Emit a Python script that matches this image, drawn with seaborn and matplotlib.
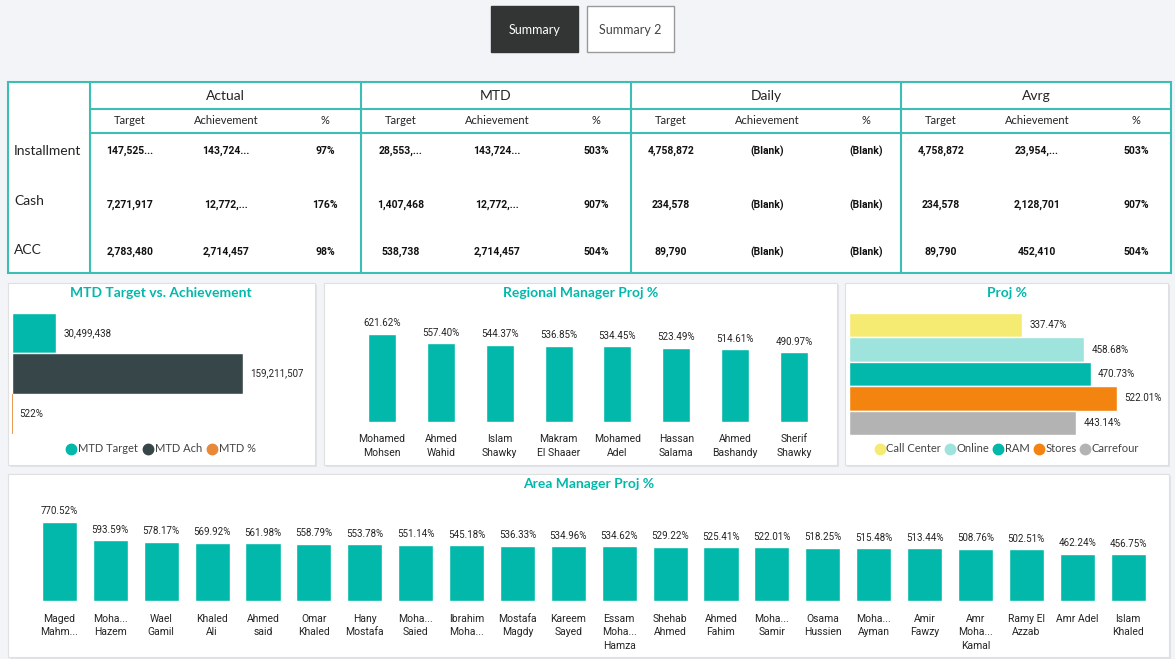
import matplotlib
matplotlib.use('Agg')
import matplotlib.pyplot as plt
import seaborn as sns
from matplotlib.patches import Rectangle
from matplotlib.lines import Line2D

# Data
table_groups = ['Actual', 'MTD', 'Daily', 'Avrg']
table_subcols = ['Target', 'Achievement', '%']
table_rows = ['Installment', 'Cash', 'ACC']
actual_vals = [['147,525...', '143,724...', '97%'],
               ['7,271,917', '12,772,...', '176%'],
               ['2,783,480', '2,714,457', '98%']]
mtd_vals = [['28,553,...', '143,724...', '503%'],
            ['1,407,468', '12,772,...', '907%'],
            ['538,738', '2,714,457', '504%']]
daily_vals = [['4,758,872', '(Blank)', '(Blank)'],
              ['234,578', '(Blank)', '(Blank)'],
              ['89,790', '(Blank)', '(Blank)']]
avrg_vals = [['4,758,872', '23,954,...', '503%'],
             ['234,578', '2,128,701', '907%'],
             ['89,790', '452,410', '504%']]

mtd_labels = ['MTD Target', 'MTD Ach', 'MTD %']
mtd_values = [30499438, 159211507, 5.22]
mtd_text = ['30,499,438', '159,211,507', '522%']

regional_names = ['Mohamed\nMohsen', 'Ahmed\nWahid', 'Islam\nShawky', 'Makram\nEl Shaaer',
                  'Mohamed\nAdel', 'Hassan\nSalama', 'Ahmed\nBashandy', 'Sherif\nShawky']
regional_pct = [621.62, 557.40, 544.37, 536.85, 534.45, 523.49, 514.61, 490.97]

channel_names = ['Call Center', 'Online', 'RAM', 'Stores', 'Carrefour']
channel_pct = [337.47, 458.68, 470.73, 522.01, 443.14]

area_names = ['Maged\nMahm...', 'Moha...\nHazem', 'Wael\nGamil', 'Khaled\nAli', 'Ahmed\nsaid',
              'Omar\nKhaled', 'Hany\nMostafa', 'Moha...\nSaied', 'Ibrahim\nMoha...', 'Mostafa\nMagdy',
              'Kareem\nSayed', 'Essam\nMoha...\nHamza', 'Shehab\nAhmed', 'Ahmed\nFahim', 'Moha...\nSamir',
              'Osama\nHussien', 'Moha...\nAyman', 'Amir\nFawzy', 'Amr\nMoha...\nKamal', 'Ramy El\nAzzab',
              'Amr Adel', 'Islam\nKhaled']
area_pct = [770.52, 593.59, 578.17, 569.92, 561.98, 558.79, 553.78, 551.14, 545.18, 536.33, 534.96,
            534.62, 529.22, 525.41, 522.01, 518.25, 515.48, 513.44, 508.76, 502.51, 462.24, 456.75]

# Colours
teal = '#01B8AA'
dark = '#374649'
orange = '#E8893A'
channel_colors = ['#F5EB73', '#9EE3DC', '#01B8AA', '#F2840F', '#B3B3B3']
line_col = '#3CBFB2'
txt = '#252423'

sns.set_theme(style='white')
plt.rcParams['font.family'] = ['Lato', 'DejaVu Sans']
narrow = ['Roboto', 'DejaVu Sans']

W, H = 1175, 659
fig = plt.figure(figsize=(W / 100, H / 100), dpi=100)
fig.patch.set_facecolor('#F3F4F8')


def box(x0, y0, x1, y1):
    return [x0 / W, 1 - y1 / H, (x1 - x0) / W, (y1 - y0) / H]


# overlay for buttons, table and panel backgrounds
ov = fig.add_axes([0, 0, 1, 1])
ov.set_xlim(0, W)
ov.set_ylim(H, 0)
ov.axis('off')

# buttons
ov.add_patch(Rectangle((491, 6), 87, 46, facecolor='#333534', edgecolor='#333534'))
ov.text(534.5, 30, 'Summary', color='white', ha='center', va='center', fontsize=9)
ov.add_patch(Rectangle((587, 6), 87, 46, facecolor='white', edgecolor='#9a9a9a', lw=1))
ov.text(630.5, 30, 'Summary 2', color='#444444', ha='center', va='center', fontsize=9)

# table
ov.add_patch(Rectangle((8, 82), 1163, 191, facecolor='white', edgecolor=line_col, lw=1.5))
group_x = [90, 361, 631, 901, 1171]
for gx in group_x[:-1]:
    ov.plot([gx, gx], [82, 273], color=line_col, lw=1.5)
for hy in [109, 133]:
    ov.plot([90, 1171], [hy, hy], color=line_col, lw=1.5)
sub_off = [40, 136, 235]
row_lbl_y = [151, 201, 250]
row_val_y = [151, 205, 252]
for name, y in zip(table_rows, row_lbl_y):
    ov.text(14, y, name, ha='left', va='center', fontsize=10, color=txt)
for gi, (g, vals) in enumerate(zip(table_groups, [actual_vals, mtd_vals, daily_vals, avrg_vals])):
    gx0, gx1 = group_x[gi], group_x[gi + 1]
    ov.text((gx0 + gx1) / 2, 96, g, ha='center', va='center', fontsize=10, color=txt)
    for si, s in enumerate(table_subcols):
        ov.text(gx0 + sub_off[si], 121, s, ha='center', va='center', fontsize=8, color=txt)
        for ri in range(3):
            ov.text(gx0 + sub_off[si], row_val_y[ri], vals[ri][si], ha='center', va='center',
                    fontsize=7.5, fontweight='bold', family=narrow, color='#111111')

# panel backgrounds
panels = [(8, 283, 315, 465), (324, 283, 837, 465), (845, 283, 1168, 465), (8, 474, 1169, 657)]
for x0, y0, x1, y1 in panels:
    ov.add_patch(Rectangle((x0 + 2, y0 + 2), x1 - x0, y1 - y0, facecolor='#E2E3E6', edgecolor='none'))
    ov.add_patch(Rectangle((x0, y0), x1 - x0, y1 - y0, facecolor='white', edgecolor='#E0E0E0', lw=0.8))

title_kw = dict(ha='center', va='center', fontsize=10, fontweight='bold', color=teal)
ov.text(161, 293, 'MTD Target vs. Achievement', **title_kw)
ov.text(581, 293, 'Regional Manager Proj %', **title_kw)
ov.text(1007, 293, 'Proj %', **title_kw)
ov.text(589, 484, 'Area Manager Proj %', **title_kw)


def clean(ax):
    ax.patch.set_alpha(0)
    sns.despine(ax=ax, left=True, bottom=True)
    ax.set_xlabel('')
    ax.set_ylabel('')
    ax.tick_params(length=0)


lab_kw = dict(fontsize=7, family=narrow, color=txt)

# MTD Target vs Achievement
ax1 = fig.add_axes(box(12, 313, 310, 434))
sns.barplot(x=mtd_values, y=mtd_labels, hue=mtd_labels, palette=[teal, dark, orange],
            width=1, saturation=1, legend=False, orient='h', ax=ax1)
for c in ax1.containers[2]:
    c.set_edgecolor(orange)
    c.set_linewidth(1.2)
for cont, lab in zip(ax1.containers, mtd_text):
    ax1.bar_label(cont, labels=[lab], padding=5, **lab_kw)
ax1.set_xlim(0, 298 / (231 / 159211507))
ax1.set_ylim(2.5, -0.5)
ax1.set_xticks([])
ax1.set_yticks([])
clean(ax1)
h1 = [Line2D([0], [0], marker='o', linestyle='', markerfacecolor=c, markeredgecolor=c, markersize=7.5)
      for c in [teal, dark, orange]]
ax1.legend(h1, mtd_labels, loc='center', bbox_to_anchor=(161 / W, 1 - 449 / H),
           bbox_transform=fig.transFigure, ncol=3, frameon=False, handletextpad=0.15,
           columnspacing=0.5, handlelength=0.9, fontsize=8, labelcolor='#444444')

# Regional Manager Proj %
ax2 = fig.add_axes(box(352.6, 310, 823.4, 422))
sns.barplot(x=regional_names, y=regional_pct, color=teal, saturation=1, width=0.475, ax=ax2)
ax2.bar_label(ax2.containers[0], labels=[f'{v:.2f}%' for v in regional_pct], padding=4, **lab_kw)
ax2.set_xlim(-0.5, 7.5)
ax2.set_ylim(0, 112 / 0.1416)
ax2.set_yticks([])
ax2.set_xticks(range(len(regional_names)))
ax2.set_xticklabels(regional_names, fontsize=7.5, family=narrow, color=txt, linespacing=1.45)
clean(ax2)
ax2.tick_params(axis='x', pad=9)

# Proj % by channel
ax3 = fig.add_axes(box(849, 313, 1165, 435))
sns.barplot(x=channel_pct, y=channel_names, hue=channel_names, palette=channel_colors,
            width=1, saturation=1, legend=False, orient='h', ax=ax3)
for cont, v in zip(ax3.containers, channel_pct):
    ax3.bar_label(cont, labels=[f'{v:.2f}%'], padding=5, **lab_kw)
ax3.set_xlim(0, 316 / 0.5133)
ax3.set_ylim(4.5, -0.5)
ax3.set_xticks([])
ax3.set_yticks([])
clean(ax3)
h3 = [Line2D([0], [0], marker='o', linestyle='', markerfacecolor=c, markeredgecolor=c, markersize=7.5)
      for c in channel_colors]
ax3.legend(h3, channel_names, loc='center', bbox_to_anchor=(1007 / W, 1 - 449 / H),
           bbox_transform=fig.transFigure, ncol=5, frameon=False, handletextpad=0.15,
           columnspacing=0.35, handlelength=0.9, fontsize=8, labelcolor='#444444')

# Area Manager Proj %
ax4 = fig.add_axes(box(34, 500, 1153.5, 601))
sns.barplot(x=area_names, y=area_pct, color=teal, saturation=1, width=0.69, ax=ax4)
ax4.bar_label(ax4.containers[0], labels=[f'{v:.2f}%' for v in area_pct], padding=4, **lab_kw)
ax4.set_xlim(-0.5, len(area_names) - 0.5)
ax4.set_ylim(0, 101 / 0.1025)
ax4.set_yticks([])
ax4.set_xticks(range(len(area_names)))
ax4.set_xticklabels(area_names, fontsize=7.5, family=narrow, color=txt, linespacing=1.45)
clean(ax4)
ax4.tick_params(axis='x', pad=9)

fig.savefig('out.png', dpi=100, facecolor=fig.get_facecolor())
